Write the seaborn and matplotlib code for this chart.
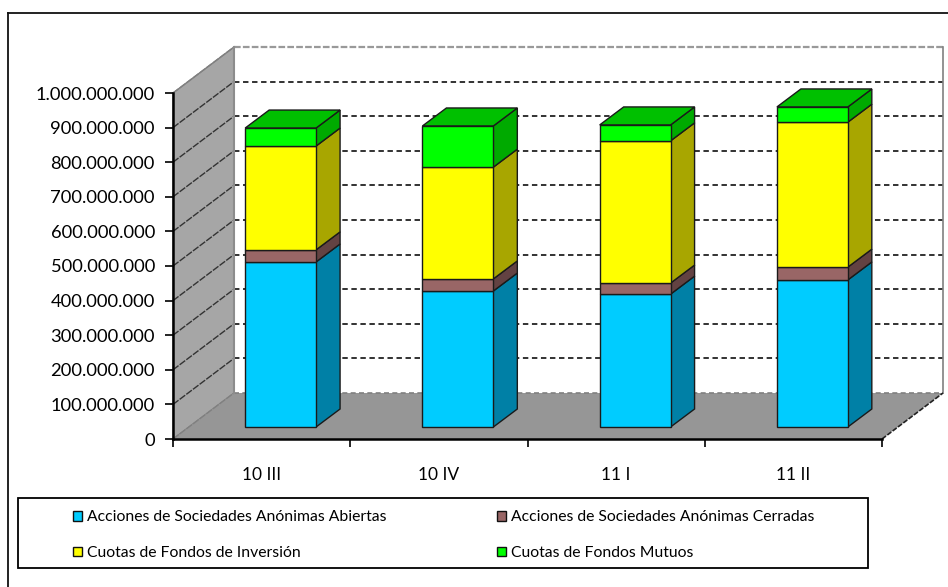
import matplotlib
matplotlib.use("Agg")
import matplotlib.pyplot as plt
import numpy as np
import seaborn as sns
from matplotlib.patches import Patch, Polygon, Rectangle
from matplotlib.ticker import FuncFormatter
from matplotlib.transforms import Affine2D, IdentityTransform

PERIODOS = ["10 III", "10 IV", "11 I", "11 II"]
ABIERTAS = [477e6, 393e6, 384e6, 425e6]
CERRADAS = [35e6, 35e6, 32e6, 37e6]
INVERSION = [300e6, 323e6, 411e6, 419e6]
MUTUOS = [52e6, 119e6, 46e6, 44e6]

SERIES = ["Acciones de Sociedades Anónimas Abiertas",
          "Acciones de Sociedades Anónimas Cerradas",
          "Cuotas de Fondos de Inversión",
          "Cuotas de Fondos Mutuos"]
VALORES = [ABIERTAS, CERRADAS, INVERSION, MUTUOS]
COLORES = ["#00CCFF", "#996666", "#FFFF00", "#00FF00"]
LATERALES = ["#0080A6", "#634242", "#A8A600", "#00AA00"]
TICKS_Y = list(range(0, 1000000001, 100000000))

W, H = 948, 587
X0, X1, Y0, Y1 = 173, 882, 439, 93  # front plane, pixels from top-left
WALL_DX, WALL_DY = 61, 46
BAR_DX, BAR_DY = 19, 12
SIDE_DX, SIDE_DY = 24, 18

plt.rcParams['font.family'] = ['Lato', 'DejaVu Sans']
fig = plt.figure(figsize=(W / 100, H / 100), dpi=100, facecolor="white")
ax = fig.add_axes([X0 / W, (H - Y0) / H, (X1 - X0) / W, (Y0 - Y1) / H])
ax.patch.set_visible(False)

# stacked front faces
bottoms = np.zeros(len(PERIODOS))
for serie, vals, col in zip(SERIES, VALORES, COLORES):
    sns.barplot(x=PERIODOS, y=vals, color=col, saturation=1, width=0.4, bottom=bottoms,
                edgecolor="#1a1a1a", linewidth=1, ax=ax, zorder=5)
    bottoms = bottoms + np.array(vals)

ax.set_xlim(-0.5, 3.5)
ax.set_ylim(0, 1e9)
ax.set_xlabel("")
ax.set_ylabel("")

pix = IdentityTransform()
wall_tr = ax.transData + Affine2D().translate(WALL_DX, WALL_DY)
bar_tr = ax.transData + Affine2D().translate(BAR_DX, BAR_DY)


def top_px(x, y):
    return (x, H - y)


# walls and floor
ax.add_patch(Polygon([top_px(X0, Y1), top_px(X0 + WALL_DX, Y1 - WALL_DY), top_px(X0 + WALL_DX, Y0 - WALL_DY),
                      top_px(X0, Y0)], closed=True, fc="#A6A6A6", ec="#808080", lw=1, transform=pix, clip_on=False, zorder=1))
ax.add_patch(Polygon([top_px(X0, Y0), top_px(X0 + WALL_DX, Y0 - WALL_DY), top_px(X1 + WALL_DX, Y0 - WALL_DY),
                      top_px(X1, Y0)], closed=True, fc="#969696", ec="none", transform=pix, clip_on=False, zorder=1))

# grid on back and left wall
for t in TICKS_Y:
    if t == 0:
        ax.plot([-0.5, 3.5], [t, t], transform=wall_tr, color="#808080", lw=1.2, ls=(0, (3, 2)), clip_on=False, zorder=2)
    elif t == TICKS_Y[-1]:
        ax.plot([-0.5, 3.5], [t, t], transform=wall_tr, color="#999999", lw=1.6, ls=(0, (3, 1)), clip_on=False, zorder=2)
    else:
        ax.plot([-0.5, 3.5], [t, t], transform=wall_tr, color="#222222", lw=1.3, ls=(0, (3, 2)), clip_on=False, zorder=2)
    px0 = ax.transData.transform((-0.5, t))
    col = "#333333" if 0 < t < TICKS_Y[-1] else "#808080"
    ax.plot([px0[0], px0[0] + WALL_DX], [px0[1], px0[1] + WALL_DY], transform=pix, color=col, lw=1,
            ls=(0, (5, 1)), clip_on=False, zorder=2)
ax.plot([X0 + WALL_DX, X0 + WALL_DX], [H - Y0 + WALL_DY, H - Y1 + WALL_DY], transform=pix, color="#8c8c8c", lw=1.5, clip_on=False, zorder=2)
ax.plot([X1 + WALL_DX, X1 + WALL_DX], [H - Y0 + WALL_DY, H - Y1 + WALL_DY], transform=pix, color="#808080", lw=1.2, clip_on=False, zorder=2)
ax.plot([X1, X1 + WALL_DX], [H - Y0, H - Y0 + WALL_DY], transform=pix, color="#222222", lw=1.2, ls=(0, (3, 1)), clip_on=False, zorder=2)

# side and top faces built from the bars seaborn drew
fronts = list(ax.patches)
fronts = [p for p in fronts if isinstance(p, Rectangle)]
n = len(PERIODOS)
for i, p in enumerate(fronts):
    p.set_transform(bar_tr)
    p.set_clip_on(False)
    (xa, ya), (xb, yb) = bar_tr.transform([(p.get_x(), p.get_y()), (p.get_x() + p.get_width(), p.get_y() + p.get_height())])
    side = [(xb, ya), (xb + SIDE_DX, ya + SIDE_DY), (xb + SIDE_DX, yb + SIDE_DY), (xb, yb)]
    ax.add_patch(Polygon(side, closed=True, fc=LATERALES[i // n], ec="#1a1a1a", lw=1, transform=pix, clip_on=False, zorder=4))
    if i // n == len(SERIES) - 1:
        top = [(xa, yb), (xa + SIDE_DX, yb + SIDE_DY), (xb + SIDE_DX, yb + SIDE_DY), (xb, yb)]
        ax.add_patch(Polygon(top, closed=True, fc="#00C000", ec="#1a1a1a", lw=1, transform=pix, clip_on=False, zorder=4))

# axes
for s in ["top", "right"]:
    ax.spines[s].set_visible(False)
for s in ["left", "bottom"]:
    ax.spines[s].set_linewidth(1.8)
    ax.spines[s].set_zorder(6)
ax.set_yticks(TICKS_Y)
ax.yaxis.set_major_formatter(FuncFormatter(lambda v, _: f"{int(v):,}".replace(",", ".")))
ax.tick_params(axis="y", length=6, width=1.2, pad=7, labelsize=13.2, colors="black")
ax.set_xticks(np.arange(-0.5, 4, 1), [""] * 5)
ax.set_xticks(range(4), PERIODOS, minor=True)
ax.tick_params(axis="x", which="major", length=6, width=1.2)
ax.tick_params(axis="x", which="minor", length=0, pad=20, labelsize=12.5)

# legend box, legend is filled by column so reorder to keep the rows of the original
orden = [0, 2, 1, 3]
handles = [Patch(fc=COLORES[i], ec="#111111", lw=1) for i in orden]
fig.add_artist(Rectangle((17.5, H - 567.7), 850.5, 70.2, fill=False, ec="black", lw=1.3, transform=pix))
ax.legend(handles, [SERIES[i] for i in orden], ncols=2, loc="lower left", bbox_to_anchor=(73, H - 560),
          bbox_transform=pix, frameon=False, fontsize=11.3, handlelength=0.55, handleheight=0.55,
          handletextpad=0.35, labelspacing=1.38, borderaxespad=0, borderpad=0, columnspacing=7.03)

# only the top and left edges of the outer frame are inside the picture
fig.add_artist(plt.Line2D([7.5, 7.5], [0, H - 12.5], color="#111111", lw=1.3, transform=pix))
fig.add_artist(plt.Line2D([7.5, W], [H - 12.5, H - 12.5], color="#111111", lw=1.3, transform=pix))

fig.savefig("out.png", dpi=100)
